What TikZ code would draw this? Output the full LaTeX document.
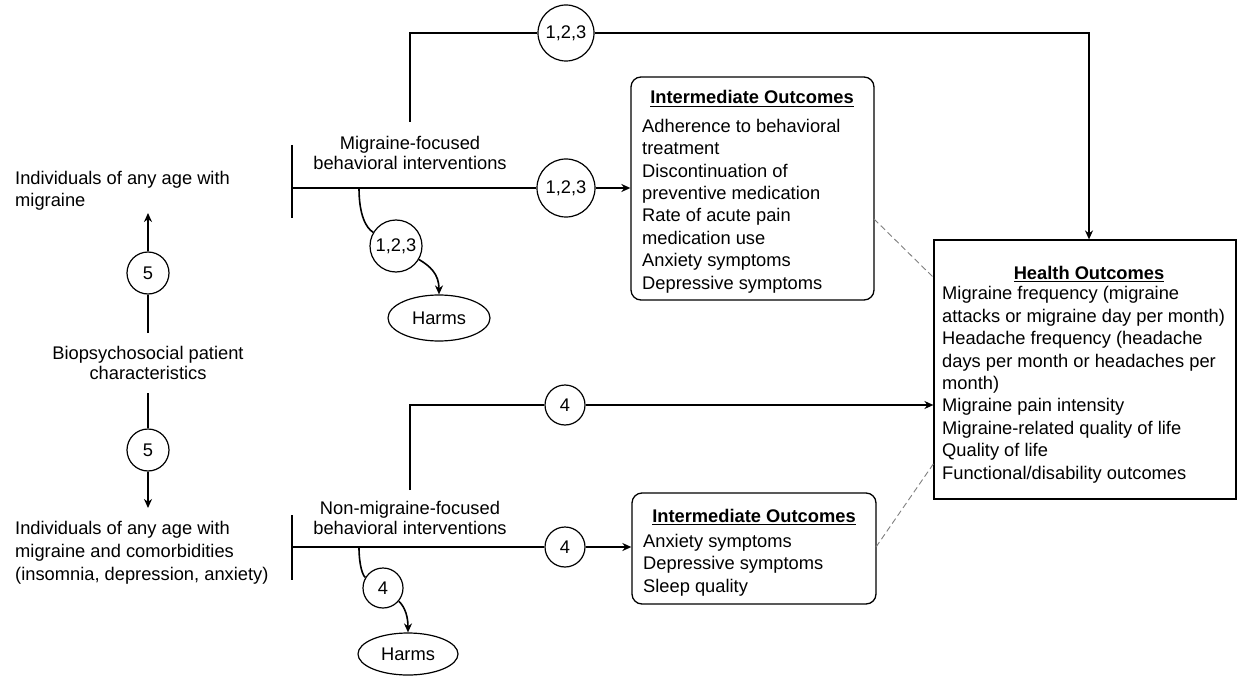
\documentclass[tikz,border=0pt]{standalone}
\usepackage{fontspec}
\setmainfont{Liberation Sans}
\usetikzlibrary{arrows.meta,shapes.geometric,calc}
\newcommand{\myul}[1]{\setbox0\hbox{#1}\rlap{\rule[-3.2pt]{\wd0}{1.6pt}}\box0}
\begin{document}
\begin{tikzpicture}[x=1pt,y=-1pt,
  font=\fontsize{18.3}{22.4}\selectfont,
  conn/.style={line width=1.6pt},
  arr/.style={conn,-{Stealth[length=9pt,width=8pt]}},
  kq/.style={circle,draw,line width=1.2pt,inner sep=0pt,fill=white},
  harm/.style={ellipse,draw,line width=1.2pt,inner sep=0pt,minimum width=102pt,minimum height=46pt},
  ibox/.style={draw,rounded corners=10pt,line width=1.3pt,inner sep=0pt},
  hbox/.style={draw,line width=1.2pt,inner sep=0pt},
  body/.style={anchor=base west,align=left,inner sep=0pt},
  lbl/.style={anchor=base,align=center,inner sep=0pt,font=\fontsize{18.3}{20}\selectfont},
  ttl/.style={anchor=base,inner sep=0pt,font=\fontsize{18.3}{22}\selectfont\bfseries},
  dsh/.style={draw=gray,line width=0.9pt,dash pattern=on 6pt off 3.5pt}]
\fill[white] (0,0) rectangle (1239,679);
\useasboundingbox (0,0) rectangle (1239,679);

% key question circles
\node[kq,minimum size=56pt] (k1) at (566,33) {1,2,3};
\node[kq,minimum size=58pt] (k2) at (566,188) {1,2,3};
\node[kq,minimum size=52pt] (k3) at (396,246) {1,2,3};
\node[kq,minimum size=40pt] (k4) at (565,405) {4};
\node[kq,minimum size=40pt] (k5) at (565,547) {4};
\node[kq,minimum size=40pt] (k6) at (383,588) {4};
\node[kq,minimum size=42pt] (k7) at (148,273) {5};
\node[kq,minimum size=42pt] (k8) at (148,450) {5};

% harms
\node[harm] (h1) at (439,318) {Harms};
\node[harm,minimum width=100pt,minimum height=42pt] (h2) at (408,654) {Harms};

% left texts (base = last line)
\node[body,font=\fontsize{18.3}{22}\selectfont] (pop1) at (15,207) {Individuals of any age with\\migraine};
\node[lbl] (bio) at (148,379) {Biopsychosocial patient\\characteristics};
\node[body,font=\fontsize{18.3}{23}\selectfont] (pop2) at (15,580) {Individuals of any age with\\migraine and comorbidities\\(insomnia, depression, anxiety)};
\node[lbl] (int1) at (410,170) {Migraine-focused\\behavioral interventions};
\node[lbl] (int2) at (410,534) {Non-migraine-focused\\behavioral interventions};

% boxes
\node[ibox,minimum width=243pt,minimum height=223pt] (io1) at (752.5,188.5) {};
\node[ibox,minimum width=244pt,minimum height=111pt] (io2) at (754,548.5) {};
\node[hbox,minimum width=302pt,minimum height=259pt] (ho) at (1085,369.5) {};

\node[ttl] (io1h) at (752,104) {\myul{Intermediate Outcomes}};
\node[body] (io1t) at (642,289) {Adherence to behavioral\\treatment\\Discontinuation of\\preventive medication\\Rate of acute pain\\medication use\\Anxiety symptoms\\Depressive symptoms};
\node[ttl] (io2h) at (754,522) {\myul{Intermediate Outcomes}};
\node[body] (io2t) at (643,592) {Anxiety symptoms\\Depressive symptoms\\Sleep quality};
\node[ttl] (hoh) at (1089,279) {\myul{Health Outcomes}};
\node[body] (hot) at (942,479) {Migraine frequency (migraine\\attacks or migraine day per month)\\Headache frequency (headache\\days per month or headaches per\\month)\\Migraine pain intensity\\Migraine-related quality of life\\Quality of life\\Functional/disability outcomes};

% coordinates
\coordinate (t0) at (410,122);
\coordinate (t1) at (410,33);
\coordinate (t2) at (1089,33);
\coordinate (b1a) at (292,145);
\coordinate (b1b) at (292,218);
\coordinate (m1) at (292,188);
\coordinate (s1) at (359,188);
\coordinate (u0) at (410,490);
\coordinate (u1) at (410,405);
\coordinate (b2a) at (292,515);
\coordinate (b2b) at (292,580);
\coordinate (m2) at (292,547);
\coordinate (s2) at (359,547);
\coordinate (v1) at (148,213);
\coordinate (v2) at (148,333);
\coordinate (v3) at (148,393);
\coordinate (v4) at (148,508);
\coordinate (d1) at (874,219);
\coordinate (d2) at (934,278);
\coordinate (d3) at (876,547);
\coordinate (d4) at (934,463);

% connectors
\draw[conn] (t0) -- (t1) -- (k1);
\draw[arr] (k1) -- (t2) -- (t2 |- ho.north);
\draw[line width=1.3pt] (b1a) -- (b1b);
\draw[conn] (m1) -- (k2);
\draw[arr] (k2) -- (k2 -| io1.west);
\draw[conn] (s1) .. controls (359,215) and (366,228) .. (k3);
\draw[arr] (k3) .. controls (430,266) and (439,274) .. (h1);

\draw[conn] (u0) -- (u1) -- (k4);
\draw[arr] (k4) -- (k4 -| ho.west);
\draw[line width=1.3pt] (b2a) -- (b2b);
\draw[conn] (m2) -- (k5);
\draw[arr] (k5) -- (k5 -| io2.west);
\draw[conn] (s2) .. controls (359,566) and (363,576) .. (k6);
\draw[arr] (k6) .. controls (402,604) and (408,612) .. (h2);

\draw[conn] (v2) -- (k7);
\draw[arr] (k7) -- (v1);
\draw[conn] (v3) -- (k8);
\draw[arr] (k8) -- (v4);

\draw[dsh] (d1) -- (d2);
\draw[dsh] (d3) -- (d4);
\end{tikzpicture}
\end{document}
